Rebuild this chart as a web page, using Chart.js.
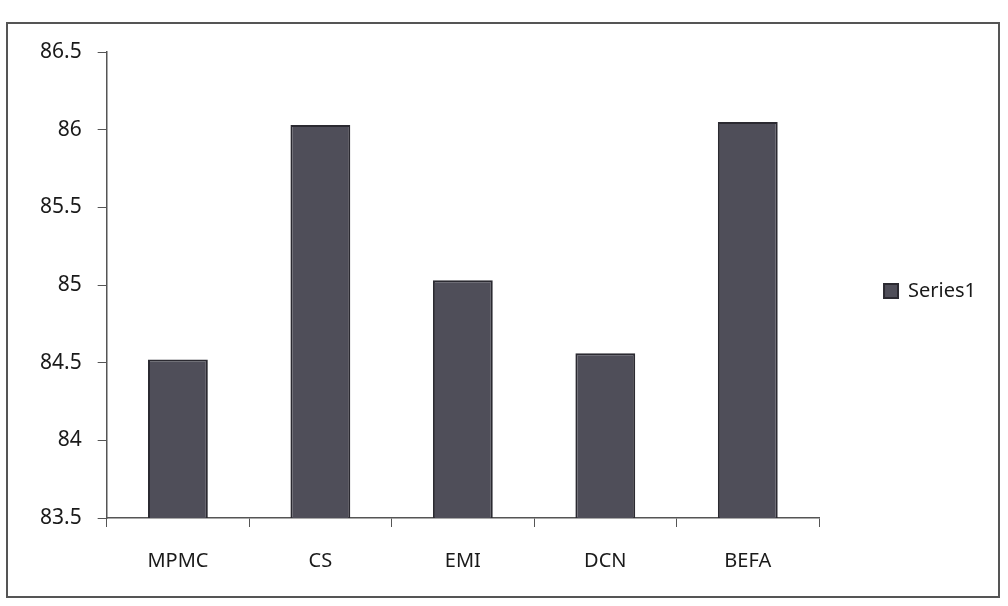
<!DOCTYPE html>
<html>
<head>
<meta charset="utf-8">
<script src="https://cdn.jsdelivr.net/npm/chart.js@4"></script>
<style>
  html, body { margin: 0; padding: 0; background: #fff; }
  #wrap { position: relative; width: 1008px; height: 606px; }
  #frame { position: absolute; left: 6px; top: 22px; width: 994px; height: 576px; border: 2px solid #555; box-sizing: border-box; }
  canvas { position: absolute; left: 0; top: 0; }
</style>
</head>
<body>
<div id="wrap">
  <div id="frame"></div>
  <canvas id="chart" width="1008" height="606"></canvas>
</div>
<script>
const categories = ['MPMC', 'CS', 'EMI', 'DCN', 'BEFA'];
const series1 = [84.52, 86.03, 85.03, 84.56, 86.05];
const yTicks = [83.5, 84, 84.5, 85, 85.5, 86, 86.5];

// centre the legend on the plot area, not on the whole canvas height
const legendToPlot = {
    id: 'legendToPlot',
    afterLayout(chart) {
        const lg = chart.legend;
        lg.top = chart.chartArea.top + 6;
        lg.bottom = chart.chartArea.bottom + 6;
        lg.height = lg.bottom - lg.top;
    }
};

const ctx = document.getElementById('chart');
new Chart(ctx, {
    type: 'bar',
    data: {
        labels: categories,
        datasets: [{
            label: 'Series1',
            data: series1,
            backgroundColor: '#4f4e59',
            borderColor: '#2b2a31',
            borderWidth: 2,
            borderSkipped: 'bottom',
            categoryPercentage: 1,
            barPercentage: 0.42
        }]
    },
    options: {
        responsive: false,
        animation: false,
        layout: { padding: { left: 24, right: 22, top: 52, bottom: 11 } },
        plugins: {
            tooltip: { enabled: false },
            legend: {
                position: 'right',
                labels: {
                    font: { family: 'Noto Sans', size: 20 },
                    color: '#1a1a1a',
                    boxWidth: 14,
                    boxHeight: 14,
                    padding: 65
                }
            }
        },
        scales: {
            y: {
                min: 83.5,
                max: 86.5,
                afterBuildTicks: axis => { axis.ticks = yTicks.map(v => ({ value: v })); },
                grid: { drawOnChartArea: false, drawTicks: true, tickLength: 9, color: '#555' },
                border: { color: '#555', width: 1.5 },
                ticks: {
                    font: { family: 'Noto Sans', size: 21 },
                    color: '#1a1a1a',
                    padding: 16,
                    callback: v => String(v)
                }
            },
            x: {
                grid: { offset: true, drawOnChartArea: false, drawTicks: true, tickLength: 9, color: '#555' },
                border: { color: '#555', width: 1.5 },
                ticks: { font: { family: 'Noto Sans', size: 20 }, color: '#1a1a1a', padding: 22 }
            }
        }
    },
    plugins: [legendToPlot]
});
</script>
</body>
</html>
